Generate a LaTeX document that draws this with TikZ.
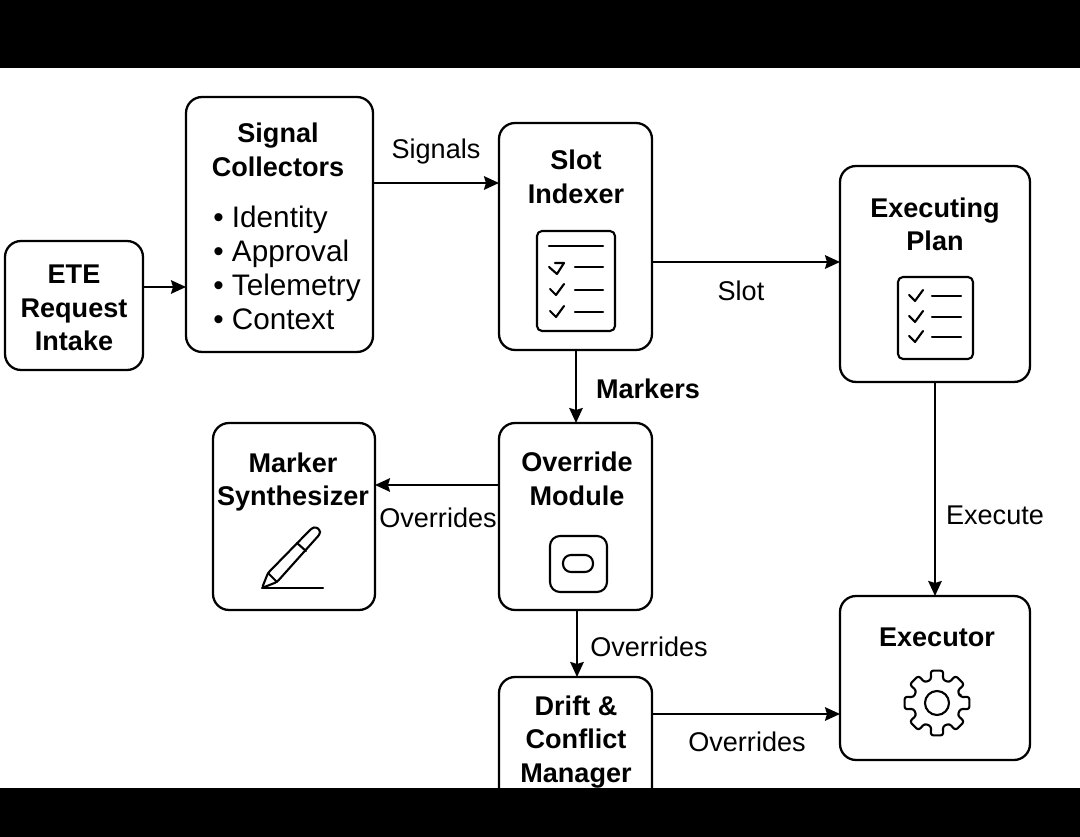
\documentclass[tikz,border=0pt]{standalone}
\usepackage{fontspec}
\setmainfont{Liberation Sans}
\usetikzlibrary{arrows.meta}
\def\tickmark(#1,#2){\draw[iconline] (#1-7, #2-1) -- (#1-1, #2+5) -- (#1+7, #2-6);}
\tikzset{
	box/.style={draw, rectangle, rounded corners=0.32cm, line width=1.3pt, inner sep=0, outer sep=0},
	titletext/.style={font=\fontsize{15.4}{19.06}\selectfont\bfseries, align=center, inner sep=0},
	edgetext/.style={font=\fontsize{15.4}{19.06}\selectfont, align=left, inner sep=0},
	listtext/.style={font=\fontsize{16.9}{19.35}\selectfont, align=left, inner sep=0},
	flow/.style={line width=1.3pt, -{Stealth[length=0.3cm, width=0.27cm, inset=0.04cm]}},
	iconline/.style={line width=1.2pt, line cap=round, line join=round},
}
\begin{document}
\begin{tikzpicture}[x=0.02cm, y=-0.02cm]
		%%%%% FRAME %%%%%
		\useasboundingbox (0, 0) rectangle (1080, 837);
		\fill[white] (0, 0) rectangle (1080, 837);
		
		%%%%% BOXES %%%%%
		\node[box, minimum width=2.76cm, minimum height=2.58cm] (intake) at (74, 305.5) {};
		\node[box, minimum width=3.74cm, minimum height=5.10cm] (collectors) at (279.5, 224.5) {};
		\node[box, minimum width=3.06cm, minimum height=4.54cm] (slot) at (575.5, 236.5) {};
		\node[box, minimum width=3.80cm, minimum height=4.32cm] (plan) at (935, 274) {};
		\node[box, minimum width=3.06cm, minimum height=3.74cm] (override) at (575.5, 516.5) {};
		\node[box, minimum width=3.24cm, minimum height=3.74cm] (synth) at (294, 516.5) {};
		\node[box, minimum width=3.06cm, minimum height=2.66cm] (drift) at (575.5, 743.5) {};
		\node[box, minimum width=3.80cm, minimum height=3.28cm] (executor) at (935, 678) {};
		
		%%%%% TITLES %%%%%
		\node[titletext] (intaketext) at (74, 308) {ETE\\Request\\Intake};
		\node[titletext] (collectorstext) at (278, 150) {Signal\\Collectors};
		\node[listtext, anchor=west] (signallist) at (213, 267.5) {• Identity\\• Approval\\• Telemetry\\• Context};
		\node[titletext] (slottext) at (576, 177) {Slot\\Indexer};
		\node[titletext] (plantext) at (935, 224.5) {Executing\\Plan};
		\node[titletext] (overridetext) at (577, 479) {Override\\Module};
		\node[titletext] (synthtext) at (293, 482) {Marker\\Synthesizer};
		\node[titletext] (drifttext) at (576, 742) {Drift \&\\Conflict\\Manager};
		\node[titletext] (executortext) at (937, 637) {Executor};
		
		%%%%% ARROWS %%%%%
		\draw[flow] (intake.east |- 0, 287) -- (collectors.west |- 0, 287);
		\draw[flow] (collectors.east |- 0, 183) -- (slot.west |- 0, 183);
		\draw[flow] (slot.east |- 0, 262) -- (plan.west |- 0, 262);
		\draw[flow] ([xshift=0.01cm]slot.south) -- ([xshift=0.01cm]override.north);
		\draw[flow] (override.west |- 0, 485) -- (synth.east |- 0, 485);
		\draw[flow] ([xshift=0.03cm]override.south) -- ([xshift=0.03cm]drift.north);
		\draw[flow] (plan.south) -- (executor.north);
		\draw[flow] (drift.east |- 0, 714) -- (executor.west |- 0, 714);
		
		%%%%% ARROW LABELS %%%%%
		\node[edgetext] (signalslabel) at (436, 152) {Signals};
		\node[edgetext] (slotlabel) at (741, 291) {Slot};
		\node[titletext] (markerslabel) at (648, 389) {Markers};
		\node[edgetext] (overridesleft) at (438, 518) {Overrides};
		\node[edgetext] (overridesdown) at (649, 647) {Overrides};
		\node[edgetext] (executelabel) at (995, 515) {Execute};
		\node[edgetext] (overridesright) at (747, 742) {Overrides};
		
		%%%%% ICONS %%%%%
		\draw[iconline, rounded corners=0.1cm] (537, 231) rectangle (615, 331);
		\draw[iconline] (549, 246) -- (603, 246);
		\draw[iconline] (549, 267) -- (557, 274) -- (564, 263) -- (555, 263);
		\foreach \y in {267, 290, 312}
			\draw[iconline] (575, \y) -- (603, \y);
		\tickmark(557, 290);
		\tickmark(557, 312);
		
		\draw[iconline, rounded corners=0.1cm] (898, 277) rectangle (973, 359);
		\foreach \y in {296, 317, 337} {
			\tickmark(916, \y);
			\draw[iconline] (932, \y) -- (961, \y);
		}
		
		\draw[iconline, rounded corners=0.2cm] (550, 536) rectangle (607, 592);
		\draw[iconline, rounded corners=0.16cm] (563, 555) rectangle (593, 572);
		
		\draw[iconline, rounded corners=0.05cm] (262, 588) -- (268, 573) -- (312, 528) -- (316, 527) -- (320, 530) -- (320, 534) -- (277, 582) -- cycle;
		\draw[iconline] (268, 573) -- (277, 582);
		\draw[iconline] (297, 543) -- (306, 551);
		\draw[iconline] (262, 588) -- (323, 588);
		
		\draw[iconline] (937, 703) circle (0.24cm);
		\draw[iconline, rounded corners=1.5pt, shift={(937, 703)}] (-14:24) \foreach \a in {0, 45, ..., 315} {
			-- (\a-14:24) -- (\a-11:33) -- (\a+11:33) -- (\a+14:24)
		} -- cycle;
		
		%%%%% BANDS %%%%%
		\fill[black] (0, 0) rectangle (1080, 68);
		\fill[black] (0, 788) rectangle (1080, 837);
\end{tikzpicture}
\end{document}
